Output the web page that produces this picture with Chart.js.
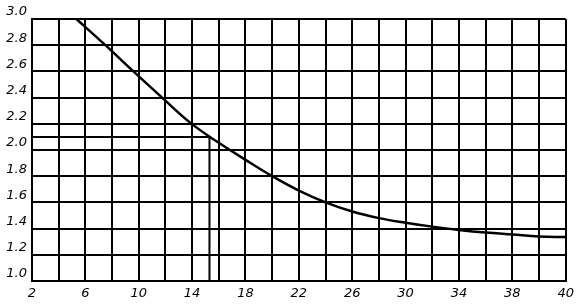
<!DOCTYPE html>
<html>
<head>
<meta charset="utf-8">
<script src="https://cdn.jsdelivr.net/npm/chart.js@4/dist/chart.umd.min.js"></script>
<style>
  html, body { margin: 0; padding: 0; background: #fff; }
  #wrap { width: 579px; height: 306px; }
</style>
</head>
<body>
<div id="wrap"><canvas id="myChart"></canvas></div>
<script>
// curve
const curveX = [5.33, 7.5, 9.6, 11.75, 13.9, 16, 18, 20, 22, 24, 26, 28, 30, 32, 34, 36, 38, 40, 42];
const curveY = [3.0, 2.8, 2.6, 2.4, 2.205, 2.055, 1.925, 1.80, 1.69, 1.60, 1.53, 1.48, 1.445, 1.415, 1.39, 1.37, 1.355, 1.34, 1.335];

// reading guide drawn on the graph (horizontal then down)
const guideX = [2, 15.3, 15.3];
const guideY = [2.1, 2.1, 1.0];

// grid and tick labels
const xGrid = [2, 4, 6, 8, 10, 12, 14, 16, 18, 20, 22, 24, 26, 28, 30, 32, 34, 36, 38, 40, 42];
const xTickValues = [2, 6, 10, 14, 18, 22, 26, 30, 34, 38, 42];
const xTickLabels = ['2', '6', '10', '14', '18', '22', '26', '30', '34', '38', '40'];
const yTickValues = [1.0, 1.2, 1.4, 1.6, 1.8, 2.0, 2.2, 2.4, 2.6, 2.8, 3.0];
const yTickLabels = ['1.0', '1.2', '1.4', '1.6', '1.8', '2.0', '2.2', '2.4', '2.6', '2.8', '3.0'];

const toPoints = (xs, ys) => xs.map((x, i) => ({ x: x, y: ys[i] }));

const data = {
  datasets: [
    {
      data: toPoints(curveX, curveY),
      borderColor: '#000',
      borderWidth: 2.5,
      pointRadius: 0,
      fill: false,
      tension: 0.4,
    },
    {
      data: toPoints(guideX, guideY),
      borderColor: '#000',
      borderWidth: 2,
      pointRadius: 0,
      fill: false,
      tension: 0,
    },
  ],
};

const tickFont = { family: 'DejaVu Sans', size: 13, style: 'italic' };

const config = {
  type: 'line',
  data: data,
  options: {
    responsive: true,
    maintainAspectRatio: false,
    animation: false,
    layout: { padding: { top: 19, right: 11, left: 0, bottom: 0 } },
    plugins: { legend: { display: false }, tooltip: { enabled: false } },
    scales: {
      x: {
        type: 'linear',
        min: 2,
        max: 42,
        afterBuildTicks: (scale) => { scale.ticks = xGrid.map(v => ({ value: v })); },
        afterFit: (scale) => { scale.height = 25; },
        grid: { color: '#000', lineWidth: 2, drawTicks: false },
        border: { color: '#000', width: 2 },
        ticks: {
          autoSkip: false,
          maxRotation: 0,
          padding: 5,
          color: '#000',
          font: tickFont,
          callback: (v) => {
            const i = xTickValues.indexOf(v);
            return i >= 0 ? xTickLabels[i] : '';
          },
        },
      },
      y: {
        type: 'linear',
        min: 1.0,
        max: 3.0,
        afterBuildTicks: (scale) => { scale.ticks = yTickValues.map(v => ({ value: v })); },
        afterFit: (scale) => { scale.width = 32; },
        grid: { color: '#000', lineWidth: 2, drawTicks: false },
        border: { color: '#000', width: 2 },
        ticks: {
          autoSkip: false,
          padding: 5,
          labelOffset: -7,
          color: '#000',
          font: tickFont,
          callback: (v) => {
            const i = yTickValues.findIndex(t => Math.abs(t - v) < 1e-6);
            return i >= 0 ? yTickLabels[i] : '';
          },
        },
      },
    },
  },
};

const myChart = new Chart(document.getElementById('myChart'), config);
</script>
</body>
</html>
